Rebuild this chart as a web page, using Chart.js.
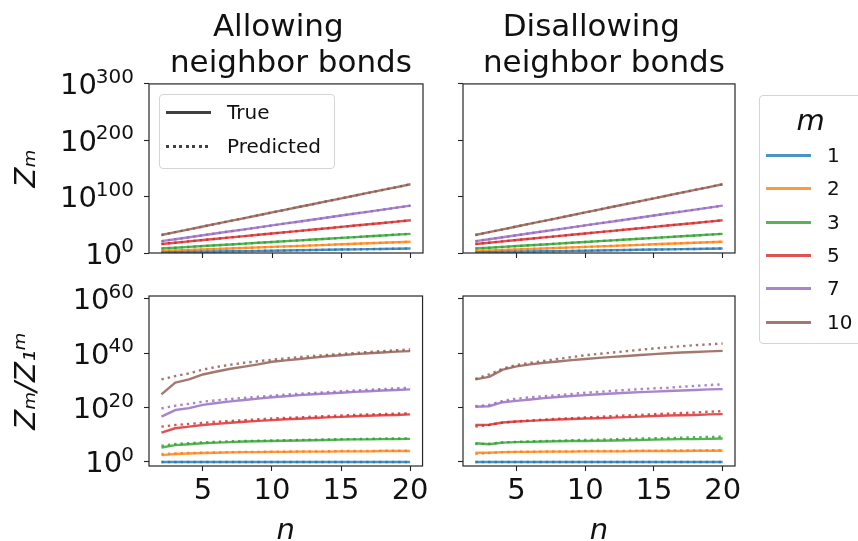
<!DOCTYPE html>
<html>
<head>
<meta charset="utf-8">
<script src="https://cdn.jsdelivr.net/npm/chart.js@4.4.1/dist/chart.umd.min.js"></script>
<style>
    html, body { margin: 0; padding: 0; width: 858px; height: 541px; overflow: hidden; background: #fff; }
    body { position: relative; font-family: "DejaVu Sans", sans-serif; color: #111; }
    canvas { position: absolute; }
    .legend { position: absolute; border: 1px solid #d4d4d4; border-radius: 4px; background: rgba(255,255,255,0.8); z-index: 5; }
    .row { position: absolute; font-size: 20px; line-height: 20px; }
    .sample { position: absolute; height: 2px; }
</style>
</head>
<body>
<canvas id="tl" width="432" height="280" style="left:0;top:0"></canvas>
<canvas id="tr" width="426" height="280" style="left:432px;top:0"></canvas>
<canvas id="bl" width="432" height="300" style="left:0;top:262px"></canvas>
<canvas id="br" width="426" height="300" style="left:432px;top:262px"></canvas>
<div id="styleLegend" class="legend" style="left:159px;top:94px;width:174px;height:73px"></div>
<div id="mLegend" class="legend" style="left:759px;top:95px;width:120px;height:247px"></div>

<script>

    // n on the x axis, one point per integer
    const nValues = [2, 3, 4, 5, 6, 7, 8, 9, 10, 11, 12, 13, 14, 15, 16, 17, 18, 19, 20];
    const mValues = ["1", "2", "3", "5", "7", "10"];
    const mColors = ["31,119,180", "255,127,14", "44,160,44", "214,39,40", "148,103,189", "140,86,75"];

    const nTicks = [5, 10, 15, 20];
    const zTicks = [0, 100, 200, 300];
    const ratioTicks = [0, 20, 40, 60];

    // log10 Z_m, rows are m = 1, 2, 3, 5, 7, 10 (same in both columns at this scale)
    const logZTrue = [
        [1, 1.4, 1.8, 2.2, 2.6, 3, 3.3, 3.7, 4.1, 4.5, 4.9, 5.3, 5.7, 6.1, 6.4, 6.8, 7.2, 7.6, 8],
        [3.5, 4.4, 5.3, 6.3, 7.2, 8.1, 9, 9.9, 10.8, 11.8, 12.7, 13.6, 14.5, 15.4, 16.3, 17.3, 18.2, 19.1, 20],
        [8, 9.4, 10.9, 12.3, 13.8, 15.2, 16.7, 18.1, 19.6, 21, 22.4, 23.9, 25.3, 26.8, 28.2, 29.7, 31.1, 32.6, 34],
        [16, 18.3, 20.7, 23, 25.3, 27.7, 30, 32.3, 34.7, 37, 39.3, 41.7, 44, 46.3, 48.7, 51, 53.3, 55.7, 58],
        [21, 24.5, 28, 31.5, 35, 38.5, 42, 45.5, 49, 52.5, 56, 59.5, 63, 66.5, 70, 73.5, 77, 80.5, 84],
        [32, 37, 42, 47, 52, 57, 62, 67, 72, 77, 82, 87, 92, 97, 102, 107, 112, 117, 122]
    ];
    const logZPred = logZTrue;

    // log10 (Z_m / Z_1^m), allowing neighbor bonds
    const allowRatioTrue = [
        [0, 0, 0, 0, 0, 0, 0, 0, 0, 0, 0, 0, 0, 0, 0, 0, 0, 0, 0],
        [2.5, 2.9, 3.1, 3.3, 3.4, 3.5, 3.6, 3.6, 3.7, 3.7, 3.8, 3.8, 3.8, 3.9, 3.9, 3.9, 4.0, 4.0, 4.0],
        [5.3, 6.2, 6.5, 6.9, 7.1, 7.3, 7.5, 7.6, 7.7, 7.8, 7.9, 8.0, 8.1, 8.2, 8.3, 8.3, 8.4, 8.4, 8.5],
        [10.8, 12.4, 13.0, 13.6, 14.0, 14.4, 14.8, 15.1, 15.4, 15.7, 15.9, 16.2, 16.4, 16.6, 16.8, 17.0, 17.2, 17.3, 17.5],
        [16.7, 19.1, 19.8, 21.0, 21.7, 22.3, 22.8, 23.3, 23.8, 24.2, 24.6, 24.9, 25.2, 25.5, 25.8, 26.0, 26.3, 26.5, 26.7],
        [24.9, 29.2, 30.4, 32.2, 33.3, 34.3, 35.1, 35.9, 36.9, 37.4, 37.9, 38.4, 38.9, 39.3, 39.7, 40.0, 40.3, 40.6, 40.8]
    ];
    const allowRatioPred = [
        [0, 0, 0, 0, 0, 0, 0, 0, 0, 0, 0, 0, 0, 0, 0, 0, 0, 0, 0],
        [2.9, 3.1, 3.3, 3.4, 3.5, 3.6, 3.7, 3.7, 3.8, 3.8, 3.9, 3.9, 3.9, 4.0, 4.0, 4.0, 4.1, 4.1, 4.1],
        [6.0, 6.6, 6.9, 7.2, 7.4, 7.6, 7.7, 7.8, 7.9, 8.0, 8.1, 8.2, 8.3, 8.4, 8.4, 8.5, 8.6, 8.6, 8.7],
        [13.0, 13.6, 14.0, 14.4, 14.8, 15.1, 15.4, 15.7, 16.0, 16.2, 16.4, 16.7, 16.9, 17.1, 17.3, 17.5, 17.6, 17.8, 17.9],
        [19.7, 20.7, 21.4, 22.2, 22.7, 23.2, 23.6, 24.0, 24.4, 24.8, 25.1, 25.4, 25.7, 26.0, 26.3, 26.6, 26.8, 27.1, 27.3],
        [30.4, 31.6, 32.6, 34.0, 35.0, 35.8, 36.5, 37.1, 37.6, 38.1, 38.6, 39.0, 39.4, 39.8, 40.1, 40.5, 40.8, 41.1, 41.4]
    ];

    // log10 (Z_m / Z_1^m), disallowing neighbor bonds
    const disallowRatioTrue = [
        [0, 0, 0, 0, 0, 0, 0, 0, 0, 0, 0, 0, 0, 0, 0, 0, 0, 0, 0],
        [3.4, 3.4, 3.6, 3.7, 3.7, 3.8, 3.8, 3.8, 3.9, 3.9, 3.9, 3.9, 4.0, 4.0, 4.0, 4.0, 4.1, 4.1, 4.1],
        [6.9, 6.5, 7.1, 7.3, 7.4, 7.5, 7.6, 7.7, 7.7, 7.8, 7.9, 8.0, 8.1, 8.2, 8.3, 8.4, 8.4, 8.5, 8.6],
        [13.6, 13.7, 14.5, 14.9, 15.1, 15.4, 15.6, 15.8, 16.0, 16.1, 16.3, 16.5, 16.7, 16.9, 17.1, 17.2, 17.3, 17.5, 17.6],
        [20.3, 20.5, 22.0, 22.5, 23.0, 23.5, 23.9, 24.3, 24.6, 24.9, 25.2, 25.5, 25.7, 25.9, 26.1, 26.3, 26.5, 26.7, 26.8],
        [30.4, 31.3, 34.0, 35.2, 35.9, 36.5, 37.0, 37.5, 37.9, 38.3, 38.7, 39.0, 39.4, 39.7, 40.0, 40.3, 40.5, 40.7, 40.9]
    ];
    const disallowRatioPred = [
        [0, 0, 0, 0, 0, 0, 0, 0, 0, 0, 0, 0, 0, 0, 0, 0, 0, 0, 0],
        [2.9, 3.3, 3.6, 3.7, 3.8, 3.8, 3.9, 3.9, 4.0, 4.0, 4.0, 4.1, 4.1, 4.1, 4.2, 4.2, 4.2, 4.3, 4.3],
        [6.6, 6.7, 7.2, 7.4, 7.6, 7.7, 7.8, 8.0, 8.1, 8.2, 8.3, 8.5, 8.6, 8.7, 8.8, 8.9, 9.1, 9.2, 9.3],
        [13.0, 13.6, 14.5, 14.9, 15.3, 15.6, 15.9, 16.1, 16.4, 16.6, 16.9, 17.1, 17.3, 17.6, 17.8, 18.0, 18.2, 18.5, 18.7],
        [20.5, 21.0, 22.5, 23.3, 23.8, 24.2, 24.6, 25.0, 25.5, 25.8, 26.2, 26.5, 26.8, 27.1, 27.3, 27.7, 28.0, 28.3, 28.6],
        [30.6, 32.2, 34.4, 35.7, 36.5, 37.2, 37.9, 38.6, 39.3, 39.8, 40.3, 40.8, 41.3, 41.8, 42.2, 42.6, 43.0, 43.3, 43.6]
    ];

    const FONT = "DejaVu Sans";
    const INK = "#111";
    const LINE_W = 2.4;
    const DOTS = [2.4, 4];

    // axes box like matplotlib spines
    const framePlugin = {
        id: "frame",
        afterDatasetsDraw(chart) {
            const { ctx, chartArea: a } = chart;
            ctx.save();
            ctx.strokeStyle = "#262626";
            ctx.lineWidth = 1.2;
            ctx.strokeRect(a.left, a.top, a.right - a.left, a.bottom - a.top);
            ctx.restore();
        }
    };

    // y tick labels as 10 with a raised exponent, placed from the y scale
    const powerLabels = {
        id: "powerLabels",
        afterDraw(chart, args, opts) {
            if (!opts.show) return;
            const { ctx, chartArea, scales: { y } } = chart;
            const right = chartArea.left - 15;
            ctx.save();
            ctx.fillStyle = INK;
            ctx.textAlign = "right";
            ctx.textBaseline = "alphabetic";
            y.ticks.forEach(t => {
                const py = y.getPixelForValue(t.value);
                const exp = String(t.value);
                ctx.font = "20px '" + FONT + "'";
                ctx.fillText(exp, right, py - 1);
                const w = ctx.measureText(exp).width;
                ctx.font = "29px '" + FONT + "'";
                ctx.fillText("10", right - w + 1, py + 10.5);
            });
            ctx.restore();
        }
    };

    function buildDatasets(trueSets, predSets) {
        const sets = [];
        mValues.forEach((m, i) => {
            sets.push({
                label: m + " true",
                data: trueSets[i],
                borderColor: "rgba(" + mColors[i] + ",0.8)",
                borderWidth: LINE_W,
                pointRadius: 0,
                borderJoinStyle: "round",
                order: 1
            });
            sets.push({
                label: m + " predicted",
                data: predSets[i],
                borderColor: "rgba(" + mColors[i] + ",0.8)",
                borderWidth: LINE_W,
                borderDash: DOTS,
                pointRadius: 0,
                order: 0
            });
        });
        return sets;
    }

    function makePanel(id, p) {
        new Chart(document.getElementById(id), {
            type: "line",
            data: { labels: nValues, datasets: buildDatasets(p.trueSets, p.predSets) },
            options: {
                responsive: false,
                animation: false,
                layout: { padding: { top: p.padTop, right: p.padRight, bottom: 0, left: 0 } },
                plugins: {
                    legend: { display: false },
                    tooltip: { enabled: false },
                    powerLabels: { show: !!p.yTitle },
                    title: {
                        display: !!p.title,
                        text: p.title,
                        fullSize: false,
                        color: INK,
                        font: { family: FONT, size: 31, weight: "normal", lineHeight: 1.16 },
                        padding: { top: 10, bottom: 2 }
                    }
                },
                scales: {
                    x: {
                        type: "linear",
                        min: 1.1,
                        max: 20.9,
                        afterBuildTicks: s => { s.ticks = nTicks.map(v => ({ value: v })); },
                        afterFit: s => { s.height = p.xHeight; },
                        border: { display: false },
                        grid: { drawOnChartArea: false, drawTicks: true, tickLength: 5, tickColor: "#222", tickWidth: 1.1 },
                        ticks: { display: p.xLabels, color: INK, padding: 3, maxRotation: 0, autoSkip: false, font: { family: FONT, size: 29 } },
                        title: {
                            display: p.xLabels,
                            text: "n",
                            color: INK,
                            font: { family: FONT, size: 29, style: "italic", lineHeight: 1.2 },
                            padding: { top: 0, bottom: 13.6 }
                        }
                    },
                    y: {
                        type: "linear",
                        min: p.yMin,
                        max: p.yMax,
                        afterBuildTicks: s => { s.ticks = p.yTicks.map(v => ({ value: v })); },
                        afterFit: s => { s.width = p.yWidth; },
                        border: { display: false },
                        grid: { drawOnChartArea: false, drawTicks: true, tickLength: 5, tickColor: "#222", tickWidth: 1.1 },
                        ticks: { display: false },
                        title: {
                            display: !!p.yTitle,
                            text: p.yTitle,
                            color: INK,
                            font: { family: FONT, size: 29, style: "italic", lineHeight: 1.2 },
                            padding: { top: 10, bottom: 0 }
                        }
                    }
                }
            },
            plugins: [framePlugin, powerLabels]
        });
    }

    makePanel("tl", {
        title: ["Allowing\u2002", " neighbor bonds"], trueSets: logZTrue, predSets: logZPred,
        yMin: 0, yMax: 300, yTicks: zTicks, yTitle: "Zₘ", xLabels: false,
        padTop: 0, padRight: 9, yWidth: 149, xHeight: 27
    });
    makePanel("tr", {
        title: ["Disallowing\u2002", " neighbor bonds"], trueSets: logZTrue, predSets: logZPred,
        yMin: 0, yMax: 300, yTicks: zTicks, yTitle: "", xLabels: false,
        padTop: 0, padRight: 123, yWidth: 31, xHeight: 27
    });
    makePanel("bl", {
        title: "", trueSets: allowRatioTrue, predSets: allowRatioPred,
        yMin: -1.5, yMax: 61.1, yTicks: ratioTicks, yTitle: "Zₘ/Z₁ᵐ", xLabels: true,
        padTop: 34, padRight: 9, yWidth: 149, xHeight: 96
    });
    makePanel("br", {
        title: "", trueSets: disallowRatioTrue, predSets: disallowRatioPred,
        yMin: -1.5, yMax: 61.1, yTicks: ratioTicks, yTitle: "", xLabels: true,
        padTop: 34, padRight: 123, yWidth: 31, xHeight: 96
    });

    // legends, matplotlib style boxes
    function addRow(box, y, text, sampleCss, textX) {
        const s = document.createElement("div");
        s.className = "sample";
        s.style.cssText = "left:6px;width:45px;top:" + Math.round(y - 1) + "px;" + sampleCss;
        box.appendChild(s);
        const t = document.createElement("div");
        t.className = "row";
        t.style.left = textX + "px";
        t.style.top = Math.round(y - 10) + "px";
        t.textContent = text;
        box.appendChild(t);
    }

    const styleBox = document.getElementById("styleLegend");
    addRow(styleBox, 17, "True", "height:3px;background:rgba(0,0,0,0.75);", 67);
    addRow(styleBox, 51, "Predicted",
        "height:3px;background:repeating-linear-gradient(to right, rgba(0,0,0,0.75) 0 3px, transparent 3px 6.5px);", 67);

    const mBox = document.getElementById("mLegend");
    const mTitle = document.createElement("div");
    mTitle.className = "row";
    mTitle.style.cssText = "left:0;width:101px;text-align:center;top:7px;font-size:29px;line-height:34px;font-style:italic;";
    mTitle.textContent = "m";
    mBox.appendChild(mTitle);
    mValues.forEach((m, i) => {
        addRow(mBox, 59 + i * 33.3, m, "height:3px;background:rgba(" + mColors[i] + ",0.8);", 67);
    });

</script>
</body>
</html>
